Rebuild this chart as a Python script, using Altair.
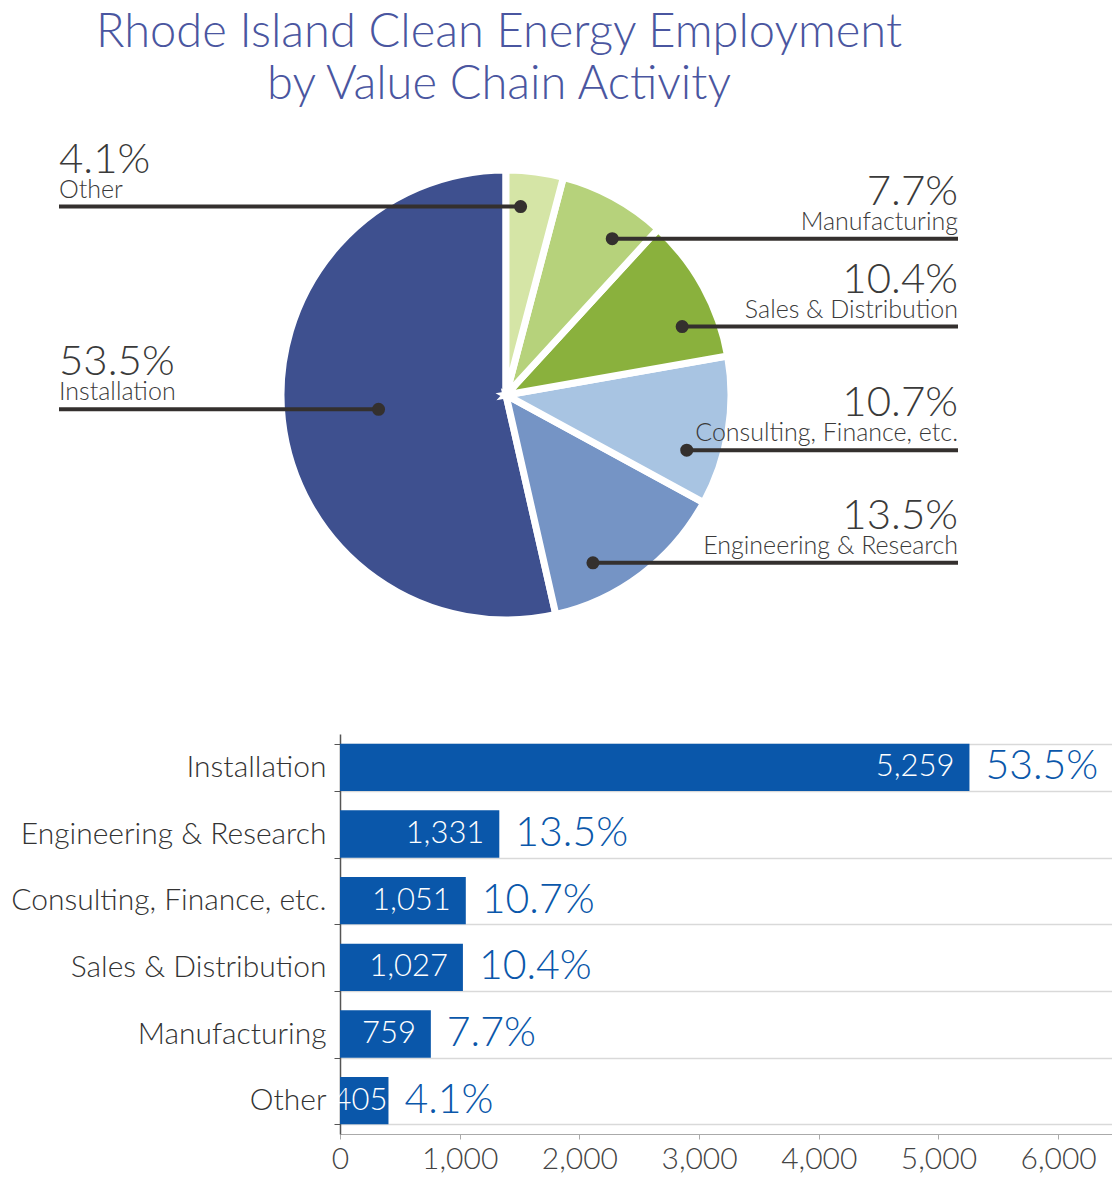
import altair as alt
import pandas as pd

# ---- data ----
categories = ["Installation", "Engineering & Research", "Consulting, Finance, etc.",
              "Sales & Distribution", "Manufacturing", "Other"]
employment = [5259, 1331, 1051, 1027, 759, 405]
shares = [53.5, 13.5, 10.7, 10.4, 7.7, 4.1]
pie_order = [5, 4, 3, 2, 1, 0]          # clockwise from 12 o'clock: Other first
pie_colors = ["#3e508f", "#7594c5", "#a8c4e2", "#8ab13d", "#b6d27b", "#d5e5a6"]
x_ticks = [0, 1000, 2000, 3000, 4000, 5000, 6000]
title_lines = ["Rhode Island Clean Energy Employment", "by Value Chain Activity"]

# ---- style / layout ----
FONT = "Lato"
TEXT = "#3a3a3a"
BLUE = "#0a57aa"
W = 772
H_PIE = 500
CX = 166
CY = 254
R = 225
LEFT_X = -281
RIGHT_X = 618
H_BAR = 400

df = pd.DataFrame({"category": categories, "employment": employment,
                   "share": shares, "pie_order": pie_order})

# callout anchor: a point inside each slice, derived from the stacked shares
base = (alt.Chart(df)
        .transform_joinaggregate(total="sum(share)")
        .transform_window(cum="sum(share)", sort=[alt.SortField("pie_order", order="ascending")])
        .transform_calculate(
            frac="datum.share > 50 ? 0.5 : (datum.cum == datum.share ? 0.3 : 0.7)",
            rf="datum.share > 50 ? 0.57 : 0.84")
        .transform_calculate(ang="2*PI*(datum.cum - datum.share*(1 - datum.frac))/datum.total")
        .transform_calculate(px=f"{R}*datum.rf*sin(datum.ang)",
                             py=f"{R}*datum.rf*cos(datum.ang)",
                             side="(datum.ang > PI || datum.ang < 0.25) ? 'left' : 'right'",
                             pct="format(datum.share, '.1f') + '%'"))

xs = alt.Scale(domain=[-CX, W - CX], nice=False, zero=False)
ys = alt.Scale(domain=[-(H_PIE - CY), CY], nice=False, zero=False)
xpos = alt.X("px:Q", scale=xs, axis=None)
ypos = alt.Y("py:Q", scale=ys, axis=None)

arcs = base.mark_arc(outerRadius=R, stroke="white", strokeWidth=7).encode(
    theta=alt.Theta("share:Q", stack=True),
    order=alt.Order("pie_order:Q", sort="ascending"),
    color=alt.Color("category:N", scale=alt.Scale(domain=categories, range=pie_colors), legend=None),
    x=alt.value(CX), y=alt.value(CY))

left = base.transform_filter("datum.side == 'left'")
right = base.transform_filter("datum.side == 'right'")

rule_l = left.mark_rule(color="#34302e", strokeWidth=4).encode(x=xpos, x2=alt.value(LEFT_X), y=ypos)
rule_r = right.mark_rule(color="#34302e", strokeWidth=4).encode(x=xpos, x2=alt.value(RIGHT_X), y=ypos)
dots = base.mark_circle(size=170, color="#34302e", opacity=1).encode(x=xpos, y=ypos)

def lbl(src, align, xv, field, size, dy):
    return src.mark_text(align=align, baseline="alphabetic", dy=dy, fontSize=size, font=FONT,
                         fontWeight=300, color=TEXT).encode(x=alt.value(xv), y=ypos, text=f"{field}:N")

pie = alt.layer(
    arcs, rule_l, rule_r, dots,
    lbl(left, "left", LEFT_X, "pct", 42, -34), lbl(left, "left", LEFT_X, "category", 25, -9),
    lbl(right, "right", RIGHT_X, "pct", 42, -34), lbl(right, "right", RIGHT_X, "category", 25, -9),
).properties(
    width=W, height=H_PIE,
    title=alt.TitleParams(text=title_lines, fontSize=47, font=FONT, fontWeight=300, color="#4a56a0",
                          anchor="start", align="center", frame="group", dx=159, offset=30,
                          lineHeight=52))

bar_base = alt.Chart(df).transform_calculate(
    pct="format(datum.share, '.1f') + '%'",
    val="format(datum.employment, ',')",
    vx="datum.employment > 600 ? datum.employment - 125 : datum.employment - 8")
XMAX = 6450
yenc = alt.Y("category:N", sort=categories,
             scale=alt.Scale(paddingInner=0.29, paddingOuter=0.145),
             axis=alt.Axis(title=None, labelFontSize=30, labelFont=FONT, labelFontWeight=300,
                           labelColor="#333", labelPadding=8, labelLimit=400, tickBand="extent",
                           tickSize=6, tickColor="#555", domainColor="#555", domainWidth=1.5,
                           grid=True, gridColor="#d9d9d9", gridWidth=1.5,
                           minExtent=332, maxExtent=332))
xscale = alt.Scale(domain=[0, XMAX], nice=False)
xenc = alt.X("employment:Q", scale=xscale,
             axis=alt.Axis(values=x_ticks, format=",d", title=None, labelFontSize=30, labelFont=FONT,
                           labelFontWeight=300, labelColor="#444", grid=False, domainColor="#aaa",
                           tickColor="#aaa", tickSize=5, labelPadding=5, labelFlush=False))

bars = bar_base.mark_bar(color=BLUE).encode(y=yenc, x=xenc)
vals = bar_base.mark_text(align="right", fontSize=31, font=FONT, fontWeight=300,
                          color="white").encode(y=yenc, x=alt.X("vx:Q", scale=xscale), text="val:N")
pcts = bar_base.mark_text(align="left", dx=16, fontSize=41, font=FONT, fontWeight=300,
                          color=BLUE).encode(y=yenc, x=xenc, text="pct:N")
bar = alt.layer(bars, vals, pcts).properties(width=W, height=H_BAR)

chart = (alt.vconcat(pie, bar, spacing=78)
         .configure_view(stroke=None)
         .properties(padding={"left": 0, "top": 0, "right": 0, "bottom": 0}))

chart.save("out.html", embed_options={"renderer": "svg", "actions": False})
